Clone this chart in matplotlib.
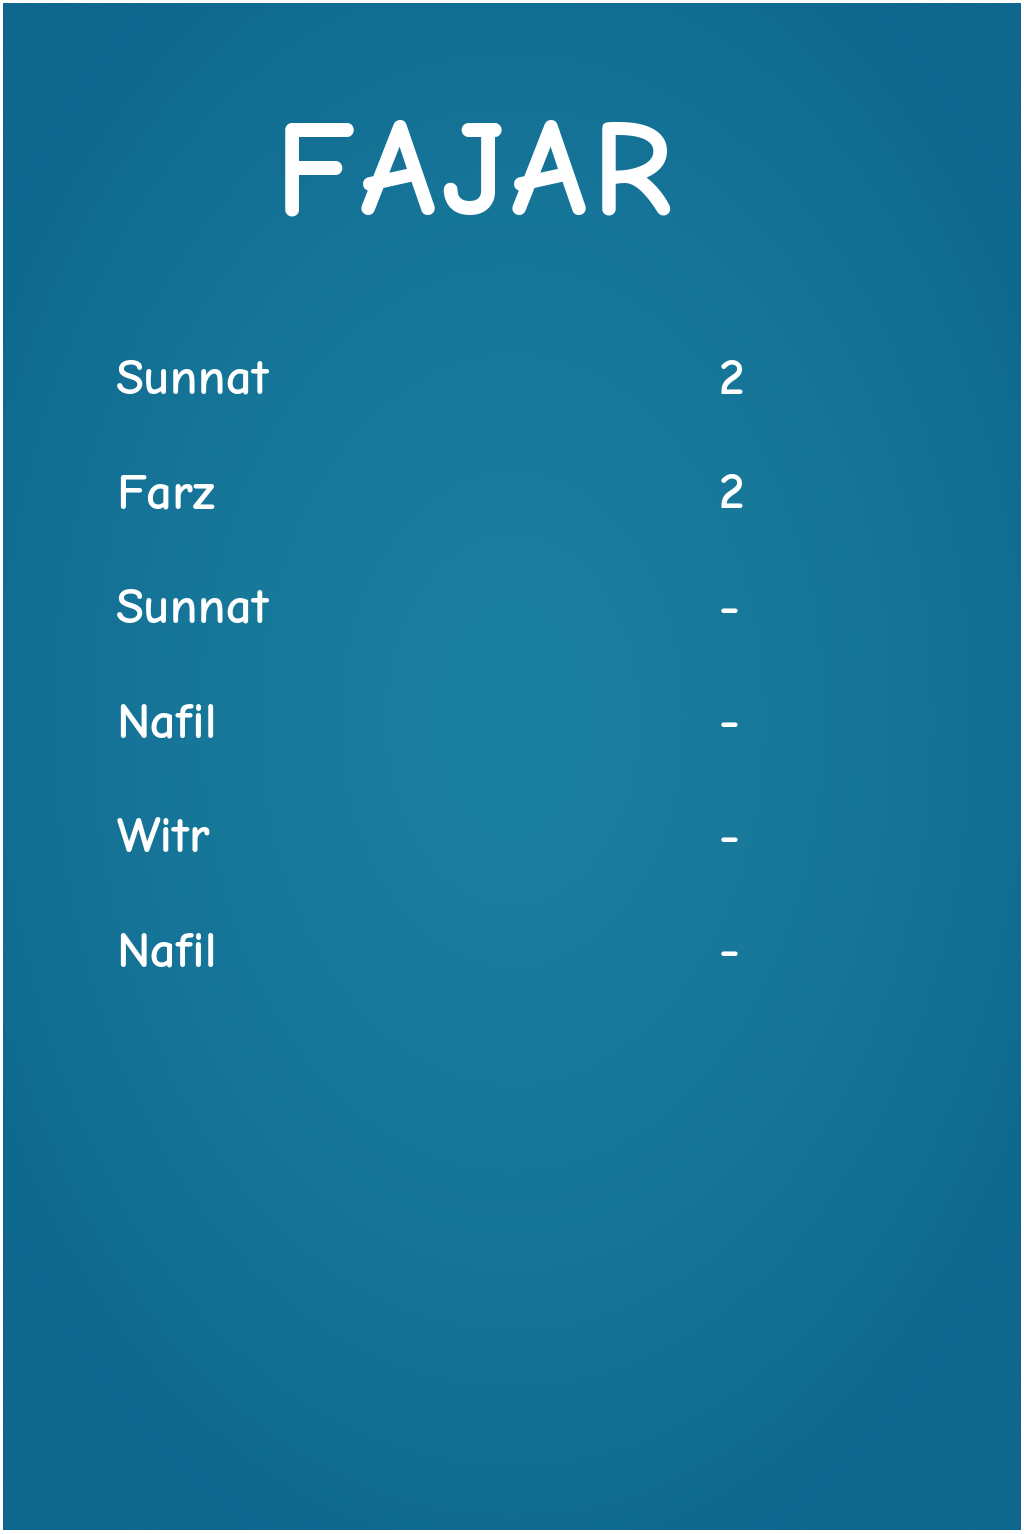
import numpy as np
import matplotlib
matplotlib.use("Agg")
import matplotlib.pyplot as plt

# データ
title = "FAJAR"
prayers = ["Sunnat", "Farz", "Sunnat", "Nafil", "Witr", "Nafil"]
rakats = ["2", "2", "-", "-", "-", "-"]

W, H = 1024, 1534
fig = plt.figure(figsize=(W / 100, H / 100), dpi=100)
fig.patch.set_facecolor("white")
ax = fig.add_axes([3 / W, 4 / H, (W - 6) / W, (H - 7) / H])
ax.set_xlim(0, W)
ax.set_ylim(H, 0)
ax.axis("off")

# 背景の放射グラデーション
yy, xx = np.mgrid[0:H, 0:W]
r = np.sqrt(((xx - 512) / 620) ** 2 + ((yy - 720) / 900) ** 2)
r = np.clip(r, 0, 1)
c_in = np.array([0x1b, 0x7f, 0x9f]) / 255
c_out = np.array([0x0e, 0x67, 0x8e]) / 255
t = r[..., None] ** 1.6
img = c_in * (1 - t) + c_out * t
ax.imshow(img, extent=[0, W, H, 0], aspect="auto", zorder=0)

font = ["Comic Neue", "Noto Sans", "DejaVu Sans"]

# タイトル（字間を広げて一文字ずつ配置）
renderer = fig.canvas.get_renderer()
inv = ax.transData.inverted()
gap = 5
letters = []
for ch in title:
    tx = ax.text(0, 179, ch, color="white", fontsize=99, ha="left", va="center",
                 family=font, fontweight="bold")
    bb = tx.get_window_extent(renderer)
    w = inv.transform((bb.x1, 0))[0] - inv.transform((bb.x0, 0))[0]
    letters.append((tx, w))
total = sum(w for _, w in letters) + gap * (len(letters) - 1)
x = 473 - total / 2
for tx, w in letters:
    tx.set_x(x)
    x += w + gap

y0, dy = 380, 115
for i, (name, n) in enumerate(zip(prayers, rakats)):
    y = y0 + i * dy
    ax.text(114, y, name, color="white", fontsize=37, ha="left", va="center",
            family=font, fontweight="bold")
    ax.text(720, y, n, color="white", fontsize=37, ha="left", va="center",
            family=font, fontweight="bold")

fig.savefig("out.png", dpi=100, facecolor="white")
